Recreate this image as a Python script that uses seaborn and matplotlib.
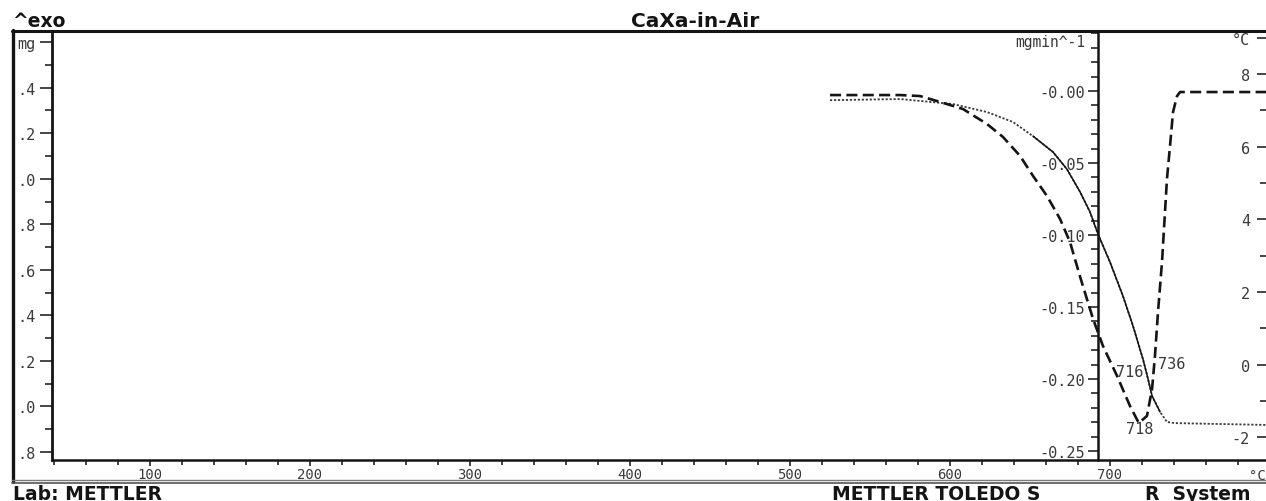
import matplotlib
matplotlib.use("Agg")
import matplotlib.pyplot as plt
from matplotlib.lines import Line2D
from matplotlib.ticker import FixedLocator, FixedFormatter, MultipleLocator
import numpy as np
import pandas as pd
import seaborn as sns

# ---------------------------------------------------------------- data ----
# TG signal: sample mass (mg) against furnace temperature (deg C)
tg_temp_c = [525.0, 568.8, 601.9, 623.1, 639.4, 651.9, 664.4, 673.1, 681.3,
             687.5, 692.5, 700.0, 708.1, 714.4, 720.6, 723.8, 726.3, 731.3,
             735.6, 740.6, 797.5]
tg_mass_mg = [11.345, 11.350, 11.328, 11.293, 11.249, 11.187, 11.117, 11.042,
              10.942, 10.854, 10.757, 10.634, 10.485, 10.353, 10.208, 10.120,
              10.046, 9.976, 9.932, 9.927, 9.919]

# DTG signal: rate of mass change (mg/min)
dtg_temp_c = [525.0, 568.8, 581.3, 593.8, 608.1, 623.1, 633.1, 643.8, 651.9,
              660.6, 668.8, 675.0, 681.3, 689.4, 695.6, 704.4, 712.5, 718.0,
              723.1, 726.3, 728.1, 730.0, 732.5, 735.6, 737.5, 739.4, 741.9,
              743.8, 797.5]
dtg_rate = [-0.0028, -0.0028, -0.0035, -0.0076, -0.0125, -0.0229, -0.0319,
            -0.0451, -0.0590, -0.0729, -0.0889, -0.1049, -0.1290, -0.1583,
            -0.1771, -0.1979, -0.2188, -0.2306, -0.2257, -0.2069, -0.1840,
            -0.1535, -0.1188, -0.0611, -0.0382, -0.0146, -0.0035, -0.0007,
            -0.0007]

# evaluation results of the TG step (inflection point, endset)
tg_inflection_c = 716
tg_endset_c = 736

# axis ticks and their labels (plotter prints only the last digits)
x_ticks = [100, 200, 300, 400, 500, 600, 700, 800]
x_tick_labels = ["100", "200", "300", "400", "500", "600", "700", ""]
x_unit = "°C"
mg_ticks = [9.8, 10.0, 10.2, 10.4, 10.6, 10.8, 11.0, 11.2, 11.4, 11.6]
mg_tick_labels = [".8", ".0", ".2", ".4", ".6", ".8", ".0", ".2", ".4", "mg"]
dtg_ticks = [-0.25, -0.20, -0.15, -0.10, -0.05, 0.0]
dtg_tick_labels = ["-0.25", "-0.20", "-0.15", "-0.10", "-0.05", "-0.00"]
sdta_ticks = [-2, 0, 2, 4, 6, 8, 9]
sdta_tick_labels = ["-2", "0", "2", "4", "6", "8", "°C"]

title = "CaXa-in-Air"

# ---------------------------------------------------------------- style ---
sns.set_theme(style="white")
plt.rcParams["font.family"] = ["DejaVu Sans"]
MONO = "DejaVu Sans Mono"
INK = "#141414"
GREY = "#3a3a3a"

W, H = 1266, 502
fig = plt.figure(figsize=(W / 100, H / 100), dpi=100)
fig.patch.set_facecolor("white")


def fx(px):
    return px / W


def fy(py):
    return 1 - py / H


# main axes: temperature vs. mass
ax = fig.add_axes([fx(52), fy(461), fx(1270) - fx(52), fy(34) - fy(461)])
ax.set_facecolor("white")
ax.set_xlim(38.75, 800)
ax.set_ylim(9.765, 11.64)
for side in ("top", "right"):
    ax.spines[side].set_visible(False)
ax.spines["left"].set_linewidth(2.0)
ax.spines["left"].set_color(INK)
ax.spines["bottom"].set_linewidth(1.8)
ax.spines["bottom"].set_color(INK)

ax.xaxis.set_major_locator(FixedLocator(x_ticks))
ax.xaxis.set_major_formatter(FixedFormatter(x_tick_labels))
ax.xaxis.set_minor_locator(MultipleLocator(20))
ax.yaxis.set_major_locator(FixedLocator(mg_ticks))
ax.yaxis.set_major_formatter(FixedFormatter(mg_tick_labels))
ax.yaxis.set_minor_locator(MultipleLocator(0.1))
ax.tick_params(axis="x", which="both", bottom=True, direction="out",
               color=INK, width=1.1, labelsize=10, labelcolor=GREY,
               labelfontfamily=MONO, pad=0.8)
ax.tick_params(axis="x", which="major", length=4)
ax.tick_params(axis="x", which="minor", length=3.3)
ax.tick_params(axis="y", which="both", left=True, direction="out",
               color=INK, width=1.1, labelsize=11, labelcolor=GREY,
               labelfontfamily=MONO, pad=3.5)
ax.tick_params(axis="y", which="major", length=8.6)
ax.tick_params(axis="y", which="minor", length=5)

# temperature unit at the right end of the x axis
fig.text(fx(1266), fy(476), x_unit, fontfamily=MONO, fontsize=10,
         color=GREY, ha="right", va="center")

# DTG axis, drawn inside the plot at ~692 deg C
ax2 = ax.twinx()
ax2.set_ylim(-0.2563, 0.0403)
for s in ax2.spines.values():
    s.set_visible(False)
ax2.spines["left"].set_visible(True)
ax2.spines["left"].set_position(("data", 692.5))
ax2.spines["left"].set_linewidth(1.8)
ax2.spines["left"].set_color(INK)
ax2.yaxis.set_ticks_position("left")
ax2.yaxis.set_major_locator(FixedLocator(dtg_ticks))
ax2.yaxis.set_major_formatter(FixedFormatter(dtg_tick_labels))
ax2.yaxis.set_minor_locator(MultipleLocator(0.01))
ax2.tick_params(axis="y", which="both", left=True, right=False,
                direction="out", color=INK, width=1.1, labelsize=11,
                labelcolor=GREY, labelfontfamily=MONO, pad=2.2)
ax2.tick_params(axis="y", which="major", length=7)
ax2.tick_params(axis="y", which="minor", length=5)

# SDTA axis on the far right edge, labels pointing into the plot
ax3 = ax.twinx()
ax3.set_ylim(-2.63, 9.13)
for s in ax3.spines.values():
    s.set_visible(False)
ax3.spines["left"].set_visible(True)
ax3.spines["left"].set_position(("axes", 1.0))
ax3.spines["left"].set_color(INK)
ax3.yaxis.set_ticks_position("left")
ax3.yaxis.set_major_locator(FixedLocator(sdta_ticks))
ax3.yaxis.set_major_formatter(FixedFormatter(sdta_tick_labels))
ax3.yaxis.set_minor_locator(FixedLocator([-1, 1, 3, 5, 7]))
ax3.tick_params(axis="y", which="both", left=True, right=False,
                direction="out", color=INK, width=1.1, labelsize=11,
                labelcolor=GREY, labelfontfamily=MONO, pad=5)
ax3.tick_params(axis="y", which="major", length=9.4)
ax3.tick_params(axis="y", which="minor", length=7)

# ---------------------------------------------------------------- curves --
tg = pd.DataFrame({"temp": tg_temp_c, "mass": tg_mass_mg})
dtg = pd.DataFrame({"temp": dtg_temp_c, "rate": dtg_rate})

# TG: fine dotted trace, continuous where the step is steep
sns.lineplot(data=tg, x="temp", y="mass", ax=ax, color=GREY, lw=1.3,
             linestyle=(0, (1.2, 1.0)), estimator=None, sort=False)
steep = tg[(tg["temp"] >= 650) & (tg["temp"] <= 735)]
sns.lineplot(data=steep, x="temp", y="mass", ax=ax, color=INK, lw=1.1,
             estimator=None, sort=False)

# DTG: long dashes
sns.lineplot(data=dtg, x="temp", y="rate", ax=ax2, color=INK, lw=1.9,
             linestyle=(0, (4.2, 2.0)), estimator=None, sort=False,
             dash_capstyle="butt")
for a in (ax, ax2, ax3):
    a.set_xlabel("")
    a.set_ylabel("")

# evaluation labels
peak_idx = int(np.argmin(dtg_rate))
peak_c = dtg_temp_c[peak_idx]
label_kw = dict(fontfamily=MONO, fontsize=11, color=GREY, ha="center",
                va="center")
ax2.text(712.5, -0.1951, f"{tg_inflection_c:d}", **label_kw)
ax2.text(738.8, -0.1896, f"{tg_endset_c:d}", **label_kw)
ax2.text(718.8, -0.2347, f"{peak_c:.0f}", **label_kw)

# unit of the DTG axis
fig.text(fx(1085), fy(43), "mgmin^-1", fontfamily=MONO, fontsize=10.5,
         color=GREY, ha="right", va="center")

# ---------------------------------------------------------------- frame ---
frame = [
    ([12, 1266], [32, 32], INK, 2.2),
    ([13, 13], [31, 483], INK, 2.4),
    ([12, 1266], [481, 481], "#7a7a7a", 1.0),
    ([12, 1266], [484, 484], "#555555", 1.2),
]
for xs, ys, col, lw in frame:
    fig.add_artist(Line2D([fx(v) for v in xs], [fy(v) for v in ys],
                          transform=fig.transFigure, color=col, lw=lw))

head_kw = dict(fontweight="bold", color=INK, va="baseline")
fig.text(fx(12), fy(27), "^exo", fontsize=13.5, ha="left", **head_kw)
fig.text(fx(695), fy(27), title, fontsize=14.5, ha="center", **head_kw)
fig.text(fx(13), fy(500), "Lab: METTLER", fontsize=13.5, ha="left", **head_kw)
fig.text(fx(832), fy(500), "METTLER TOLEDO S", fontsize=13.5, ha="left",
         **head_kw)
fig.text(fx(1145), fy(500), "R  System", fontsize=13.5, ha="left", **head_kw)

fig.savefig("out.png", dpi=100, facecolor="white")
